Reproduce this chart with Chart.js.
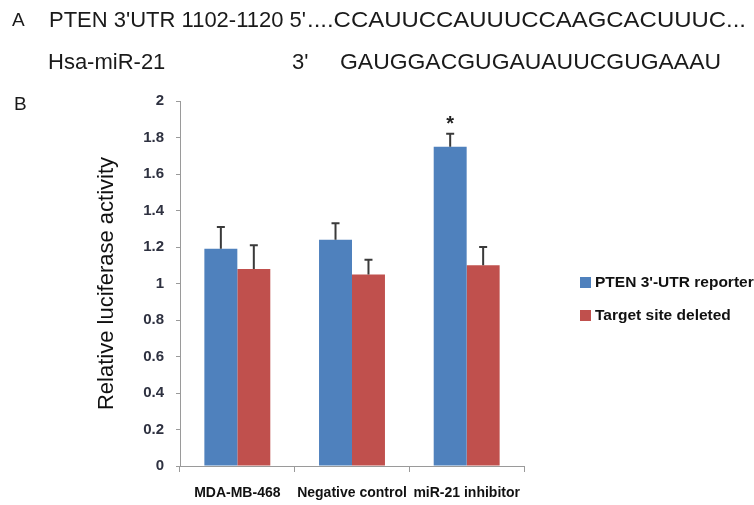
<!DOCTYPE html>
<html>
<head>
<meta charset="utf-8">
<script src="https://cdn.jsdelivr.net/npm/chart.js@4.4.1/dist/chart.umd.min.js"></script>
<style>
  body { margin: 0; background: #fff; }
  #wrap { position: relative; width: 754px; height: 505px; overflow: hidden; }
  #chart { position: absolute; left: 0; top: 0; }
  .hd { position: absolute; font: 22px 'Liberation Sans', Arial, sans-serif; line-height: 22px; color: #1a1a1a; white-space: nowrap; transform-origin: 0 0; }
  .panel { font-size: 19px; line-height: 19px; }
</style>
</head>
<body>
<div id="wrap">
  <canvas id="chart" width="754" height="505"></canvas>
  <div class="hd panel" style="left:12px;top:10px">A</div>
  <div class="hd" style="left:49px;top:9px">PTEN 3'UTR 1102-1120 5'</div>
  <div class="hd fit" data-w="439" style="left:307px;top:9px">....CCAUUCCAUUUCCAAGCACUUUC...</div>
  <div class="hd" style="left:48px;top:51px">Hsa-miR-21</div>
  <div class="hd" style="left:292px;top:51px">3'</div>
  <div class="hd fit" data-w="381" style="left:340px;top:51px">GAUGGACGUGAUAUUCGUGAAAU</div>
  <div class="hd panel" style="left:14px;top:94px">B</div>
</div>
<script>
// stretch the sequence lines to the widths seen in the figure
document.querySelectorAll('.fit').forEach(function(el) {
  const w = el.getBoundingClientRect().width;
  el.style.transform = 'scaleX(' + (el.dataset.w / w) + ')';
});

const categories = ['MDA-MB-468', 'Negative control', 'miR-21 inhibitor'];
const reporterValues = [1.19, 1.24, 1.75];
const reporterErrors = [0.12, 0.09, 0.07];
const deletedValues = [1.08, 1.05, 1.10];
const deletedErrors = [0.13, 0.08, 0.10];
const reporterMarks = ['', '', '*'];
const yMin = 0, yMax = 2, yStep = 0.2;

const errors = [reporterErrors, deletedErrors];
const marks = [reporterMarks, ['', '', '']];

// upper error whiskers + significance star
const errorBars = {
  id: 'errorBars',
  afterDatasetsDraw(chart) {
    const ctx = chart.ctx;
    const y = chart.scales.y;
    ctx.save();
    chart.data.datasets.forEach((ds, i) => {
      chart.getDatasetMeta(i).data.forEach((bar, j) => {
        const top = y.getPixelForValue(ds.data[j] + errors[i][j]);
        ctx.strokeStyle = '#3a3a3a';
        ctx.lineWidth = 2;
        ctx.beginPath();
        ctx.moveTo(bar.x, bar.y);
        ctx.lineTo(bar.x, top);
        ctx.moveTo(bar.x - 4, top);
        ctx.lineTo(bar.x + 4, top);
        ctx.stroke();
        if (marks[i][j]) {
          ctx.fillStyle = '#222';
          ctx.font = 'bold 20px "Liberation Sans", Arial';
          ctx.textAlign = 'center';
          ctx.textBaseline = 'alphabetic';
          ctx.fillText(marks[i][j], bar.x, top - 4);
        }
      });
    });
    ctx.restore();
  }
};

// legend to the right of the plot, cut by the page edge like the figure
const sideLegend = {
  id: 'sideLegend',
  afterDraw(chart) {
    const ctx = chart.ctx;
    const area = chart.chartArea;
    ctx.save();
    ctx.font = 'bold 15.5px "Liberation Sans", Arial';
    ctx.textBaseline = 'middle';
    ctx.textAlign = 'left';
    chart.data.datasets.forEach((ds, i) => {
      const cy = area.top + 181 + i * 33;
      ctx.fillStyle = ds.backgroundColor;
      ctx.fillRect(area.right + 56, cy - 5, 11, 11);
      ctx.fillStyle = '#111';
      ctx.fillText(ds.label, area.right + 71, cy + 1);
    });
    ctx.restore();
  }
};

new Chart(document.getElementById('chart'), {
  type: 'bar',
  data: {
    labels: categories,
    datasets: [
      { label: "PTEN 3'-UTR reporter", data: reporterValues, backgroundColor: '#4f81bd',
        categoryPercentage: 0.575, barPercentage: 1.0 },
      { label: 'Target site deleted', data: deletedValues, backgroundColor: '#c0504d',
        categoryPercentage: 0.575, barPercentage: 1.0 }
    ]
  },
  options: {
    responsive: false,
    animation: false,
    layout: { padding: { left: 94, top: 101, right: 230, bottom: 0 } },
    plugins: { legend: { display: false }, tooltip: { enabled: false } },
    scales: {
      x: {
        afterFit: s => { s.height = 39; },
        grid: { display: true, drawOnChartArea: false, tickLength: 6, color: '#9a9a9a' },
        border: { color: '#9a9a9a' },
        ticks: { color: '#111', padding: 13, maxRotation: 0,
                 font: { family: '"Liberation Sans", Arial', size: 14, weight: 'bold' } }
      },
      y: {
        min: yMin, max: yMax,
        afterFit: s => { s.width = 86; },
        grid: { display: true, drawOnChartArea: false, tickLength: 4, color: '#9a9a9a' },
        border: { color: '#9a9a9a' },
        ticks: { stepSize: yStep, color: '#2e3140', padding: 12,
                 font: { family: '"Liberation Sans", Arial', size: 15, weight: 'bold' },
                 callback: v => String(Number(v.toFixed(1))) },
        title: { display: true, text: 'Relative luciferase activity', color: '#111', padding: 0,
                 font: { family: '"Liberation Sans", Arial', size: 22 } }
      }
    }
  },
  plugins: [errorBars, sideLegend]
});
</script>
</body>
</html>
